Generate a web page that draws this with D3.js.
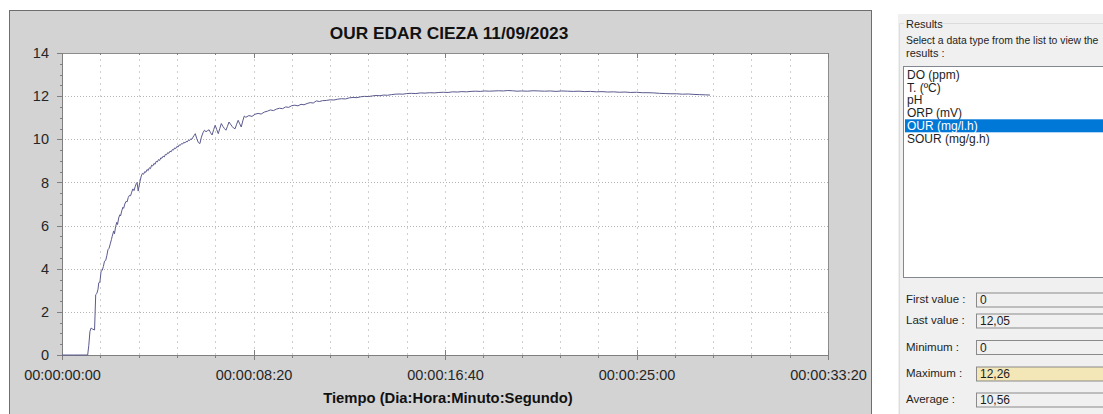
<!DOCTYPE html>
<html lang="en">
<head>
<meta charset="utf-8">
<title>OUR EDAR CIEZA 11/09/2023</title>
<script src="https://d3js.org/d3.v7.min.js"></script>
<style>
body { margin: 0; background: #fff; }
svg text { font-family: "Liberation Sans", Arial, sans-serif; }
.axis path, .axis line { stroke: #7f7f7f; shape-rendering: crispEdges; }
.axis text { font-size: 14.5px; fill: #262626; }
.grid line { shape-rendering: crispEdges; }
.side text { font-size: 11px; fill: #1e1e1e; }
</style>
</head>
<body>
<script>

// OUR (mg/l.h) readings: [seconds since start, value]
var ourReadings = [
  [0, 0], [30, 0], [67, 0], [70, 0.45], [73, 1.1], [76, 1.25], [80, 1.2], [85, 1.16],
  [88, 2.8], [91, 2.85], [94, 3.05], [96, 3.35], [99, 3.38], [102, 3.88], [105, 3.92],
  [108, 4.1], [111, 4.35], [114, 4.38], [117, 4.6], [120, 4.88], [123, 4.95], [126, 5.15],
  [129, 5.35], [131, 5.5], [135, 5.75], [137, 5.62], [140, 5.95], [143, 6.15], [145, 6.05],
  [148, 6.35], [151, 6.5], [153, 6.45], [156, 6.68], [159, 6.85], [161, 6.8], [164, 7.0],
  [167, 7.12], [170, 7.1], [173, 7.3], [176, 7.4], [179, 7.38], [182, 7.55], [185, 7.7],
  [188, 7.62], [191, 7.8], [194, 7.95], [196, 8.0], [199, 7.6], [203, 8.0], [207, 8.3],
  [210, 8.42], [213, 8.38], [216, 8.5], [219, 8.47], [222, 8.6], [225, 8.55], [228, 8.68],
  [231, 8.64], [234, 8.8], [237, 8.76], [240, 8.88], [243, 8.84], [246, 8.98], [249, 8.95],
  [252, 9.06], [255, 9.02], [258, 9.14], [261, 9.12], [264, 9.22], [267, 9.18], [270, 9.3],
  [273, 9.28], [276, 9.38], [279, 9.35], [282, 9.45], [285, 9.42], [288, 9.52], [291, 9.5],
  [294, 9.6], [297, 9.57], [300, 9.67], [303, 9.64], [306, 9.74], [309, 9.72], [312, 9.8],
  [315, 9.78], [318, 9.86], [321, 9.83], [324, 9.9], [327, 9.88], [330, 9.96], [333, 9.94],
  [336, 10.02], [339, 10.0], [342, 10.1], [345, 10.18], [348, 10.26], [352, 10.02], [356, 9.85],
  [360, 9.8], [364, 10.1], [368, 10.3], [372, 10.42], [376, 10.35], [380, 10.4], [384, 10.44],
  [388, 10.3], [392, 10.2], [396, 10.45], [400, 10.65], [404, 10.45], [408, 10.26], [412, 10.5],
  [416, 10.73], [420, 10.6], [424, 10.5], [428, 10.42], [432, 10.6], [436, 10.8], [440, 10.7],
  [444, 10.6], [448, 10.52], [452, 10.49], [456, 10.7], [460, 10.88], [464, 10.72], [468, 10.57],
  [472, 10.85], [476, 11.08], [480, 11.02], [488, 11.1], [496, 11.06], [504, 11.16], [512, 11.2],
  [520, 11.17], [528, 11.26], [536, 11.3], [544, 11.36], [552, 11.33], [560, 11.4], [568, 11.44],
  [576, 11.42], [584, 11.5], [592, 11.48], [600, 11.56], [608, 11.58], [616, 11.55], [624, 11.62],
  [632, 11.6], [640, 11.66], [648, 11.7], [656, 11.68], [664, 11.78], [672, 11.75], [680, 11.79],
  [690, 11.8], [700, 11.83], [710, 11.82], [720, 11.86], [730, 11.88], [740, 11.87], [750, 11.92],
  [760, 11.94], [770, 11.93], [780, 11.97], [790, 11.99], [800, 11.98], [810, 12.01], [820, 12.03],
  [830, 12.02], [840, 12.05], [850, 12.04], [860, 12.07], [870, 12.09], [880, 12.1], [890, 12.09],
  [900, 12.12], [912, 12.13], [924, 12.12], [936, 12.15], [948, 12.14], [960, 12.16], [972, 12.15],
  [984, 12.17], [996, 12.18], [1008, 12.17], [1020, 12.2], [1032, 12.19], [1044, 12.21], [1056, 12.2],
  [1068, 12.22], [1080, 12.23], [1092, 12.22], [1104, 12.24], [1116, 12.23], [1128, 12.24], [1140, 12.25],
  [1152, 12.24], [1164, 12.26], [1176, 12.25], [1188, 12.23], [1200, 12.24], [1215, 12.23], [1230, 12.25],
  [1245, 12.24], [1260, 12.23], [1275, 12.24], [1290, 12.22], [1305, 12.24], [1320, 12.23], [1335, 12.22],
  [1350, 12.23], [1365, 12.21], [1380, 12.22], [1395, 12.2], [1410, 12.21], [1425, 12.19], [1440, 12.2],
  [1455, 12.18], [1470, 12.19], [1485, 12.17], [1500, 12.18], [1515, 12.16], [1530, 12.16], [1545, 12.15],
  [1560, 12.13], [1575, 12.12], [1590, 12.11], [1605, 12.11], [1620, 12.09], [1635, 12.1], [1650, 12.08],
  [1665, 12.07], [1680, 12.06], [1692, 12.05]
];

var xMajorTicks = [0, 500, 1000, 1500, 2000];
var yMajorTicks = [0, 2, 4, 6, 8, 10, 12, 14];

var dataTypes = ["DO (ppm)", "T. (\u00baC)", "pH", "ORP (mV)", "OUR (mg/l.h)", "SOUR (mg/g.h)"];
var selectedType = "OUR (mg/l.h)";
var statLabels = ["First value :", "Last value :", "Minimum :", "Maximum :", "Average :"];
var statValues = ["0", "12,05", "0", "12,26", "10,56"];

var W = 1103, H = 414;
var plot = {left: 62, right: 828, top: 53, bottom: 355};

var svg = d3.select("body").append("svg")
    .attr("width", W)
    .attr("height", H);

// chart panel
svg.append("rect")
    .attr("x", 9.5).attr("y", 10.5)
    .attr("width", 862).attr("height", 420)
    .attr("fill", "#d3d3d3")
    .attr("stroke", "#6e6e6e");

svg.append("rect")
    .attr("x", plot.left).attr("y", plot.top)
    .attr("width", plot.right - plot.left).attr("height", plot.bottom - plot.top)
    .attr("fill", "#fff");

var x = d3.scaleLinear().domain([0, 2000]).range([plot.left, plot.right]);
var y = d3.scaleLinear().domain([0, 14]).range([plot.bottom, plot.top]);

function fmtTime(s) {
    var m = Math.floor(s / 60), sec = s % 60;
    return "00:00:" + d3.format("02")(m) + ":" + d3.format("02")(sec);
}

// grid
var grid = svg.append("g").attr("class", "grid");
grid.selectAll(".vg")
    .data(d3.range(100, 2000, 100))
    .enter().append("line")
    .attr("x1", function(d) { return Math.round(x(d)) + 0.5; })
    .attr("x2", function(d) { return Math.round(x(d)) + 0.5; })
    .attr("y1", plot.top).attr("y2", plot.bottom)
    .attr("stroke", "#cfcfcf")
    .attr("stroke-dasharray", "2,4");
grid.selectAll(".hg")
    .data([2, 4, 6, 8, 10, 12])
    .enter().append("line")
    .attr("x1", plot.left).attr("x2", plot.right)
    .attr("y1", function(d) { return Math.round(y(d)) + 0.5; })
    .attr("y2", function(d) { return Math.round(y(d)) + 0.5; })
    .attr("stroke", "#b4b4b4")
    .attr("stroke-dasharray", "1,2");

// frame top / right
svg.append("path")
    .attr("d", "M" + plot.left + "," + (plot.top + 0.5) + "H" + (plot.right + 0.5) + "V" + plot.bottom)
    .attr("fill", "none")
    .attr("stroke", "#8c8c8c");

// axes
var yAxis = d3.axisLeft(y).tickValues(yMajorTicks).tickSize(5).tickPadding(8);
var yMinor = d3.axisLeft(y).tickValues(d3.range(0, 14.01, 0.5)).tickSize(2).tickFormat("");
var xAxis = d3.axisBottom(x).tickValues(xMajorTicks).tickSize(5).tickPadding(10).tickFormat(fmtTime);
var xMinor = d3.axisBottom(x).tickValues(d3.range(0, 2001, 100)).tickSize(3).tickFormat("");
var xTop = d3.axisTop(x).tickValues(xMajorTicks).tickSize(-5).tickFormat("");
var xTopMinor = d3.axisTop(x).tickValues(d3.range(0, 2001, 100)).tickSize(-2).tickFormat("");

svg.append("g").attr("class", "axis").attr("transform", "translate(" + plot.left + ",0)").call(yMinor);
svg.append("g").attr("class", "axis").attr("transform", "translate(" + plot.left + ",0)").call(yAxis);
svg.append("g").attr("class", "axis").attr("transform", "translate(0," + plot.bottom + ")").call(xMinor);
var xg = svg.append("g").attr("class", "axis").attr("transform", "translate(0," + plot.bottom + ")").call(xAxis);
xg.selectAll(".tick line").attr("y1", -5);
svg.append("g").attr("class", "axis").attr("transform", "translate(0," + plot.top + ")").call(xTopMinor)
    .select(".domain").remove();
svg.append("g").attr("class", "axis").attr("transform", "translate(0," + plot.top + ")").call(xTop)
    .select(".domain").remove();
svg.selectAll(".axis .domain").attr("stroke", "#6e6e6e");

// series
var line = d3.line()
    .x(function(d) { return x(d[0]); })
    .y(function(d) { return y(d[1]); });

svg.append("path")
    .datum(ourReadings)
    .attr("d", line)
    .attr("fill", "none")
    .attr("stroke", "#5a5a8e")
    .attr("stroke-width", 1);

// titles
svg.append("text")
    .attr("x", 449).attr("y", 39)
    .attr("text-anchor", "middle")
    .style("font-size", "17.3px").style("font-weight", "bold").attr("fill", "#111")
    .text("OUR EDAR CIEZA 11/09/2023");

svg.append("text")
    .attr("x", 448).attr("y", 403)
    .attr("text-anchor", "middle")
    .style("font-size", "14.8px").style("font-weight", "bold").attr("fill", "#111")
    .text("Tiempo (Dia:Hora:Minuto:Segundo)");

// side panel
var side = svg.append("g").attr("class", "side");
side.append("rect")
    .attr("x", 898).attr("y", 14).attr("width", W - 898).attr("height", H - 14)
    .attr("fill", "#f0f0f0");
side.append("path")
    .attr("d", "M899.5," + H + "V23.5H904M943,23.5H" + W)
    .attr("fill", "none").attr("stroke", "#dcdcdc");
side.append("text").attr("x", 906).attr("y", 28).text("Results");
side.append("text").attr("x", 906).attr("y", 44).style("font-size", "10.4px")
    .text("Select a data type from the list to view the");
side.append("text").attr("x", 906).attr("y", 57).text("results :");

side.append("rect")
    .attr("x", 903.5).attr("y", 66.5).attr("width", 210).attr("height", 211)
    .attr("fill", "#fff").attr("stroke", "#828790");

var itemH = 12.7;
var items = side.selectAll(".item")
    .data(dataTypes)
    .enter().append("g")
    .attr("transform", function(d, i) { return "translate(905," + (69 + i * itemH) + ")"; });
items.filter(function(d) { return d === selectedType; })
    .append("rect")
    .attr("x", 0).attr("y", -0.5).attr("width", 200).attr("height", itemH + 0.3)
    .attr("fill", "#0078d7");
items.append("text")
    .attr("x", 2).attr("y", 10)
    .style("font-size", "12px")
    .style("fill", function(d) { return d === selectedType ? "#fff" : "#1e1e1e"; })
    .text(function(d) { return d; });

var boxTops = [292.5, 313.5, 340, 366.5, 392.5];
var stats = side.selectAll(".stat")
    .data(statLabels)
    .enter().append("g")
    .attr("transform", function(d, i) { return "translate(0," + boxTops[i] + ")"; });
stats.append("text").attr("x", 906).attr("y", 10.5).style("font-size", "11.5px").text(function(d) { return d; });
stats.append("rect")
    .attr("x", 976.5).attr("y", 0.5).attr("width", 140).attr("height", 14)
    .attr("fill", function(d, i) { return statLabels[i] === "Maximum :" ? "#f3e6b7" : "#f0f0f0"; })
    .attr("stroke", "#8a8a8a");
stats.append("text").attr("x", 980).attr("y", 11.5).style("font-size", "12px").text(function(d, i) { return statValues[i]; });

</script>
</body>
</html>
